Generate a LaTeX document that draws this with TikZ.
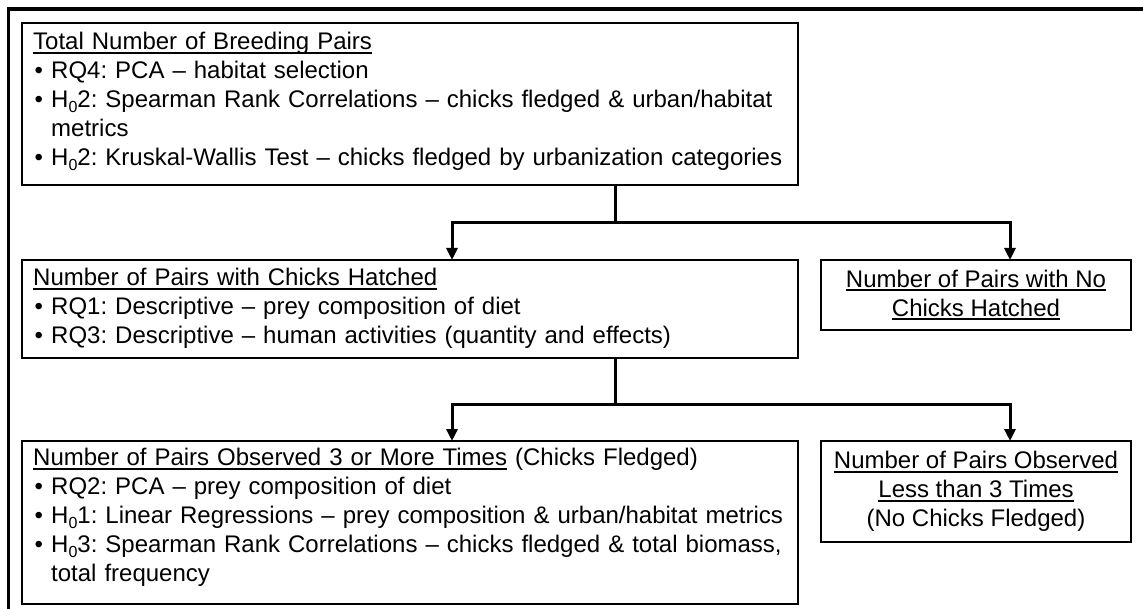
\documentclass[tikz,border=0pt]{standalone}
\usepackage{fontspec}
\setmainfont{Liberation Sans}
\usetikzlibrary{arrows.meta}
\frenchspacing
\newsavebox\ulbox
\newcommand\ulx[1]{\sbox\ulbox{#1}\rlap{\rule[-4.2pt]{\wd\ulbox}{1.8pt}}\usebox\ulbox}
\newcommand\bitem{\makebox[18pt][l]{\hspace{1.5pt}\textbullet}}
\newcommand\Hsub[1]{H\raisebox{-4.5pt}{\fontsize{16}{16}\selectfont 0}#1}
\begin{document}
\begin{tikzpicture}[x=1pt,y=-1pt,
 box/.style={draw, line width=2.2pt, rectangle, anchor=north west, inner sep=0pt, outer sep=0pt},
 txt/.style={inner sep=0pt, font=\fontsize{24}{29}\selectfont\frenchspacing},
 ltxt/.style={txt, anchor=base west, text width=760pt, align=left},
 ctxt/.style={txt, align=center, anchor=center},
 conn/.style={line width=3pt},
 arr/.style={conn, -{Triangle[length=12pt,width=11pt]}},
 outerframe/.style={line width=3.5pt}]
\clip (0,0) rectangle (1143,609);
\draw[outerframe] (8.5,640) -- (8.5,9) -- (1180,9);
% boxes
\node[box, minimum width=776pt, minimum height=162pt] (b1) at (22,23) {};
\node[box, minimum width=776pt, minimum height=98pt] (b2) at (22,260) {};
\node[box, minimum width=310pt, minimum height=70pt] (b3) at (821,260) {};
\node[box, minimum width=776pt, minimum height=163pt] (b4) at (22,441) {};
\node[box, minimum width=310pt, minimum height=101pt] (b5) at (821,441) {};
% texts
\node[ltxt] (t1) at (33,50) {\ulx{Total Number of Breeding Pairs}\\
\bitem RQ4: PCA \textendash\ habitat selection\\
\bitem \Hsub{2}: Spearman Rank Correlations \textendash\ chicks fledged \& urban/habitat\\
\hspace*{18pt}metrics\\
\bitem \Hsub{2}: Kruskal-Wallis Test \textendash\ chicks fledged by urbanization categories};
\node[ltxt] (t2) at (33,285.5) {\ulx{Number of Pairs with Chicks Hatched}\\
\bitem RQ1: Descriptive \textendash\ prey composition of diet\\
\bitem RQ3: Descriptive \textendash\ human activities (quantity and effects)};
\node[ltxt] (t4) at (33,465.5) {\ulx{Number of Pairs Observed 3 or More Times} (Chicks Fledged)\\
\bitem RQ2: PCA \textendash\ prey composition of diet\\
\bitem \Hsub{1}: Linear Regressions \textendash\ prey composition \& urban/habitat metrics\\
\bitem \Hsub{3}: Spearman Rank Correlations \textendash\ chicks fledged \& total biomass,\\
\hspace*{18pt}total frequency};
\node[ctxt] (t3) at (b3.center) {\ulx{Number of Pairs with No}\\\ulx{Chicks Hatched}};
\node[ctxt] (t5) at (b5.center) {\ulx{Number of Pairs Observed}\\\ulx{Less than 3 Times}\\(No Chicks Fledged)};
% connectors
\coordinate (j1) at (615,223);
\coordinate (j2) at (615,404);
\coordinate (xl) at (452,0);
\coordinate (xr) at (1010,0);
\draw[conn] (b1.south -| j1) -- (j1);
\draw[arr] (j1) -| (xl |- b2.north);
\draw[arr] (j1) -| (xr |- b3.north);
\draw[conn] (b2.south -| j2) -- (j2);
\draw[arr] (j2) -| (xl |- b4.north);
\draw[arr] (j2) -| (xr |- b5.north);
\end{tikzpicture}
\end{document}
